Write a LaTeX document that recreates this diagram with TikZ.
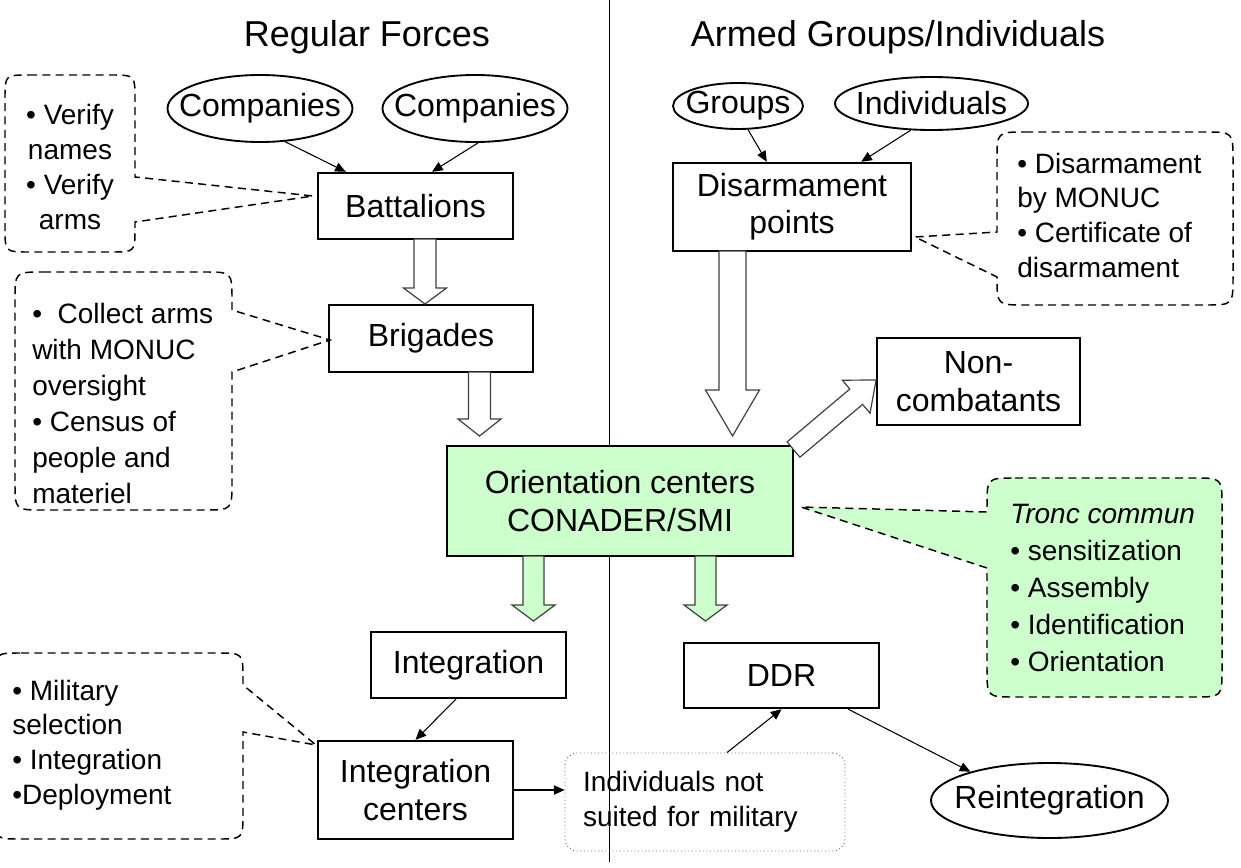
\documentclass[tikz,border=0pt]{standalone}
\usepackage{fontspec}
\setmainfont{Liberation Sans}
\usetikzlibrary{arrows.meta,shapes.geometric}
\definecolor{lgreen}{HTML}{CCFFCC}
\newcommand{\blkdown}[7]{\draw[#7] (#1-#5,#2) -- (#1-#5,#3) -- (#1-#6,#3) -- (#1,#4) -- (#1+#6,#3) -- (#1+#5,#3) -- (#1+#5,#2) -- cycle;}
\begin{document}
\begin{tikzpicture}[x=0.75pt,y=-0.75pt,
  box/.style={draw, line width=1.8pt, rectangle, inner sep=0pt, align=center, font=\fontsize{24}{28}\selectfont},
  oval/.style={draw, line width=1.4pt, ellipse, inner sep=0pt},
  ovtext/.style={font=\fontsize{24}{28}\selectfont, inner sep=0pt},
  conn/.style={line width=0.8pt, -{Triangle[length=8pt,width=7pt]}},
  callout/.style={draw, line width=1.1pt, dash pattern=on 6pt off 4pt},
  ctext/.style={inner sep=0pt, align=left},
  blk/.style={draw=black!75, line width=0.9pt, fill=white},
  gblk/.style={blk, fill=lgreen},
  title/.style={inner sep=0pt, font=\fontsize{27}{32}\selectfont},
  dotbox/.style={draw=black!60, dotted, line width=0.7pt, rounded corners=9pt, inner xsep=13.5pt, inner ysep=0pt, text width=183pt, align=left, minimum height=73.5pt, font=\fontsize{21}{26.25}\selectfont}]

\useasboundingbox (0,0) rectangle (1241,867);
\fill[white] (0,0) rectangle (1241,867);

% divider
\draw[line width=0.6pt] (609,0) -- (609,862);

% titles
\node[title] (t1) at (367,37) {Regular Forces};
\node[title] (t2) at (898,37) {Armed Groups/Individuals};

% callouts (unfilled)
\draw[callout] (29,75) -- (111,75) .. controls (135,75) .. (135,99) -- (135,177) -- (313,196) -- (135,222) -- (135,228) .. controls (135,252) .. (111,252) -- (29,252) .. controls (5,252) .. (5,228) -- (5,99) .. controls (5,75) .. (29,75) -- cycle;
\node[ctext, align=center, font=\fontsize{21}{26.25}\selectfont] (c1t) at (70,167) {• Verify\\names\\• Verify\\arms};

\draw[callout] (43,272) -- (204,272) .. controls (232,272) .. (232,300) -- (232,310) -- (330,340) -- (232,372) -- (232,482) .. controls (232,510) .. (204,510) -- (43,510) .. controls (15,510) .. (15,482) -- (15,300) .. controls (15,272) .. (43,272) -- cycle;
\node[ctext, anchor=west, font=\fontsize{21}{27}\selectfont] (c2t) at (32,403) {•\ \ Collect arms\\with MONUC\\oversight\\• Census of\\people and\\materiel};

\draw[callout] (21,653) -- (217,653) .. controls (243,653) .. (243,679) -- (243,685) -- (316,745) -- (243,732) -- (243,813) .. controls (243,839) .. (217,839) -- (21,839) .. controls (-5,839) .. (-5,813) -- (-5,679) .. controls (-5,653) .. (21,653) -- cycle;
\node[ctext, anchor=west, font=\fontsize{21}{26}\selectfont] (c3t) at (12,745) {• Military\\selection\\• Integration\\•Deployment};

\draw[callout] (1025,132) -- (1205,132) .. controls (1233,132) .. (1233,160) -- (1233,277) .. controls (1233,305) .. (1205,305) -- (1025,305) .. controls (997,305) .. (997,277) -- (915,237) -- (997,232) -- (997,160) .. controls (997,132) .. (1025,132) -- cycle;
\node[ctext, anchor=west, font=\fontsize{21}{26}\selectfont] (c4t) at (1017,215) {• Disarmament\\by MONUC\\• Certificate of\\disarmament};

% ellipses
\node[oval, minimum width=138.75pt, minimum height=50.25pt] (comp1) at (260,108.5) {};
\node[ovtext] (comp1t) at (comp1) {Companies};
\node[oval, minimum width=138.75pt, minimum height=50.25pt] (comp2) at (475,108.5) {};
\node[ovtext] (comp2t) at (comp2) {Companies};
\node[oval, minimum width=97.5pt, minimum height=34.5pt] (groups) at (738,106) {};
\node[ovtext] (groupst) at (groups) {Groups};
\node[oval, minimum width=144.75pt, minimum height=39.75pt] (indiv) at (931.5,103.5) {};
\node[ovtext] (indivt) at (indiv) {Individuals};
\node[oval, minimum width=177.75pt, minimum height=56.25pt] (reint) at (1049.5,800.5) {};
\node[ovtext] (reintt) at (reint) {Reintegration};

% boxes
\node[box, minimum width=146.25pt, minimum height=49.5pt] (batt) at (415.5,206) {Battalions};
\node[box, minimum width=153pt, minimum height=50.25pt] (brig) at (431,338.5) {Brigades};
\node[box, minimum width=178.5pt, minimum height=66pt] (disarm) at (792,207) {Disarmament\\points};
\node[box, minimum width=152.25pt, minimum height=65.25pt] (noncomb) at (978.5,381.5) {Non-\\combatants};
\node[box, fill=lgreen, minimum width=259.5pt, minimum height=82.5pt] (orient) at (620,501) {Orientation centers\\CONADER/SMI};
\node[box, minimum width=146.25pt, minimum height=49.5pt] (integ) at (468.5,665) {Integration};
\node[box, minimum width=146.25pt, minimum height=73.5pt] (intc) at (415.5,790) {Integration\\centers};
\node[box, minimum width=146.25pt, minimum height=48.75pt] (ddr) at (781.5,675.5) {DDR};
\node[dotbox] (unfit) at (705,802) {Individuals not\\suited for military};

% filled callout
\draw[callout, fill=lgreen] (1015,478) -- (1194,478) .. controls (1222,478) .. (1222,506) -- (1222,669) .. controls (1222,697) .. (1194,697) -- (1015,697) .. controls (987,697) .. (987,669) -- (987,568) -- (801,507) -- (987,512) -- (987,506) .. controls (987,478) .. (1015,478) -- cycle;
\node[ctext, anchor=west, font=\fontsize{21}{27.75}\selectfont] (c5t) at (1010,588) {\textit{Tronc commun}\\• sensitization\\• Assembly\\• Identification\\• Orientation};

% thin connectors
\draw[conn] (comp1.-53) -- ([xshift=21.75pt]batt.north west);
\draw[conn] (comp2.-85) -- ([xshift=12.4pt]batt.north);
\draw[conn] (groups.-67) -- ([xshift=71.25pt]disarm.north west);
\draw[conn] (indiv.-128) -- ([xshift=-38.25pt]disarm.north east);
\draw[conn] ([xshift=-9.4pt]integ.south) -- (intc.north);
\draw[conn] (intc.east) -- (intc.east -| unfit.west);
\draw[conn] ([xshift=16.5pt]unfit.north) -- (ddr.south);
\draw[conn] ([xshift=-24pt]ddr.south east) -- (reint.160);

% block arrows
\blkdown{425}{239}{288}{304}{11}{21.5}{blk}
\blkdown{479.5}{372}{419}{436}{11}{21.5}{blk}
\blkdown{732.5}{251}{390}{436}{13.5}{27}{blk}
\blkdown{533.5}{556}{605}{621}{10.5}{21.5}{gblk}
\blkdown{705.5}{556}{605}{621}{10.5}{21.5}{gblk}
\draw[blk] (787.1,441.9) -- (849.8,389.0) -- (842.4,380.2) -- (876.1,380.0) -- (870.0,413.2) -- (862.6,404.4) -- (799.9,457.2) -- cycle;

\end{tikzpicture}
\end{document}
